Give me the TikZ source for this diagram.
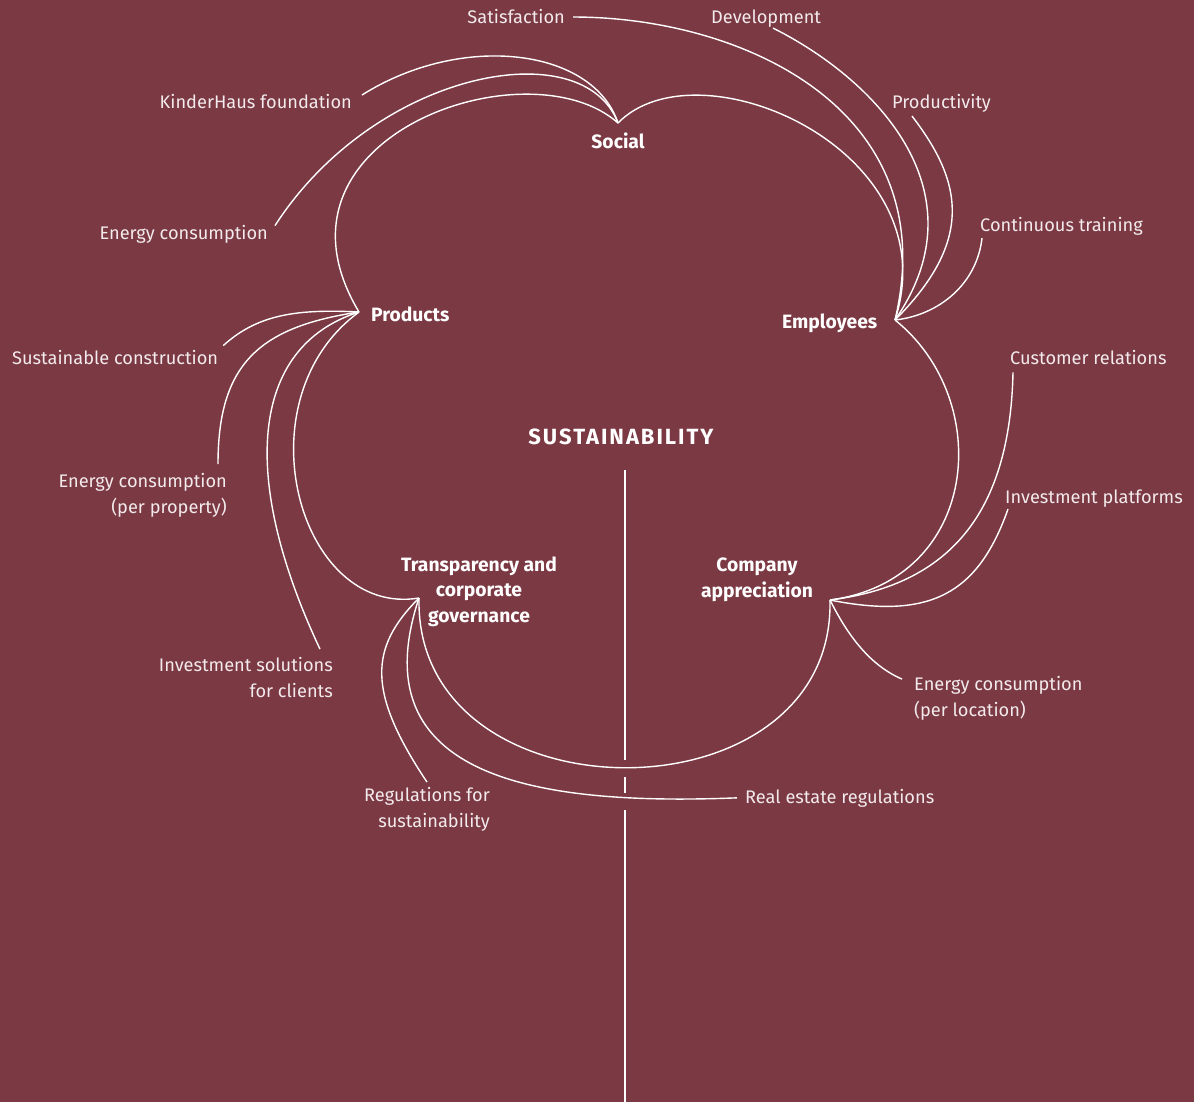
\documentclass[tikz,border=0pt]{standalone}
\usepackage{fontspec}
\setmainfont{Fira Sans}
\usepackage{tikz}
\definecolor{wine}{RGB}{123,57,67}
\definecolor{paper}{RGB}{242,234,236}

\begin{document}
\begin{tikzpicture}[
  x=1pt, y=-1pt,
  font=\fontsize{18.2}{25.5}\selectfont,
  lbl/.style={text=paper, inner sep=0pt},
  hub/.style={text=white, inner sep=0pt, font=\fontsize{19.3}{25.5}\selectfont\bfseries},
  twig/.style={draw=white, line width=1.4pt}]
\fill[wine] (0,0) rectangle (1194,1102);
\useasboundingbox (0,0) rectangle (1194,1102);

% cusps
\coordinate (hsoc) at (618,123);
\coordinate (hprod) at (359,312);
\coordinate (hemp) at (895,320);
\coordinate (htra) at (419,598);
\coordinate (hcom) at (830,600);
\coordinate (stemtop) at (625,470);
\coordinate (stembot) at (625,1102);

\node[hub, anchor=base] (social) at (618,149) {Social};
\node[hub, anchor=base west] (products) at (371,321) {Products};
\node[hub, anchor=base west] (employees) at (782,328) {Employees};
\node[hub, anchor=base, align=center] (transparency) at (479,622) {Transparency and\\corporate\\governance};
\node[hub, anchor=base, align=center] (appreciation) at (757,597) {Company\\appreciation};
\node[hub, anchor=base, font=\fontsize{22}{24}\selectfont\bfseries\addfontfeature{LetterSpace=9}] (sust) at (621,444) {SUSTAINABILITY};

\node[lbl, anchor=base east] (satisfaction) at (565,24) {Satisfaction};
\node[lbl, anchor=base west] (development) at (711,24) {Development};
\node[lbl, anchor=base east] (kinderhaus) at (352,109) {KinderHaus foundation};
\node[lbl, anchor=base west] (productivity) at (892,109) {Productivity};
\node[lbl, anchor=base east] (energy) at (268,240) {Energy consumption};
\node[lbl, anchor=base west] (training) at (980,232) {Continuous training};
\node[lbl, anchor=base west] (construction) at (12,364) {Sustainable construction};
\node[lbl, anchor=base west] (customer) at (1010,364) {Customer relations};
\node[lbl, anchor=base east, align=right] (property) at (227,513) {Energy consumption\\(per property)};
\node[lbl, anchor=base west] (platforms) at (1005,503) {Investment platforms};
\node[lbl, anchor=base east, align=right] (solutions) at (333,697) {Investment solutions\\for clients};
\node[lbl, anchor=base west, align=left] (location) at (914,716) {Energy consumption\\(per location)};
\node[lbl, anchor=base east, align=right] (regulations) at (490,827) {Regulations for\\sustainability};
\node[lbl, anchor=base west] (realestate) at (745,803) {Real estate regulations};

\draw[white, line width=1.4pt, dash pattern=on 290pt off 17pt on 16pt off 17pt on 320pt] (stemtop) -- (stembot);

% social
\draw[twig] ([xshift=10pt,yshift=7pt]kinderhaus.east) .. controls +(100,-63) and +(-25,-75) .. (hsoc);
\draw[twig] ([xshift=7pt]energy.north east) .. controls +(100,-155) and +(-35,-92) .. (hsoc);
\draw[twig] (hsoc) .. controls +(-90,-80) and +(-105,-175) .. (hprod);
\draw[twig] (hsoc) .. controls +(80,-82) and +(55,-170) .. (hemp);
% employees
\draw[twig] ([xshift=8pt]satisfaction.east) .. controls +(170,0) and +(50,-210) .. (hemp);
\draw[twig] ([xshift=62pt]development.south west) .. controls +(100,50) and +(90,-130) .. (hemp);
\draw[twig] ([xshift=20pt,yshift=-3pt]productivity.south west) .. controls +(50,65) and +(80,-80) .. (hemp);
\draw[twig] ([xshift=2pt,yshift=-2pt]training.south west) .. controls +(-5,45) and +(45,-5) .. (hemp);
\draw[twig] (hemp) .. controls +(100,80) and +(150,-20) .. (hcom);
% products
\draw[twig] ([xshift=5pt,yshift=4pt]construction.north east) .. controls +(35,-32) and +(-60,-3) .. (hprod);
\draw[twig] ([xshift=-9pt,yshift=9pt]property.north east) .. controls +(0,-100) and +(-100,15) .. (hprod);
\draw[twig] ([xshift=-13pt,yshift=8pt]solutions.north east) .. controls +(-80,-170) and +(-110,35) .. (hprod);
\draw[twig] (hprod) .. controls +(-120,88) and +(-120,20) .. (htra);
% transparency
\draw[twig] ([xshift=-63pt,yshift=5pt]regulations.north east) .. controls +(-60,-90) and +(-50,50) .. (htra);
\draw[twig] ([xshift=-8pt]realestate.west) .. controls +(-200,8) and +(-60,180) .. (htra);
\draw[twig] (htra) .. controls +(-5,225) and +(5,225) .. (hcom);
% company
\draw[twig] ([xshift=3pt,yshift=-8pt]customer.south west) .. controls +(-3,140) and +(120,-15) .. (hcom);
\draw[twig] ([xshift=3pt,yshift=-2pt]platforms.south west) .. controls +(-30,85) and +(100,20) .. (hcom);
\draw[twig] ([xshift=-12pt,yshift=-3pt]location.north west) .. controls +(-35,-15) and +(15,30) .. (hcom);
\end{tikzpicture}
\end{document}
